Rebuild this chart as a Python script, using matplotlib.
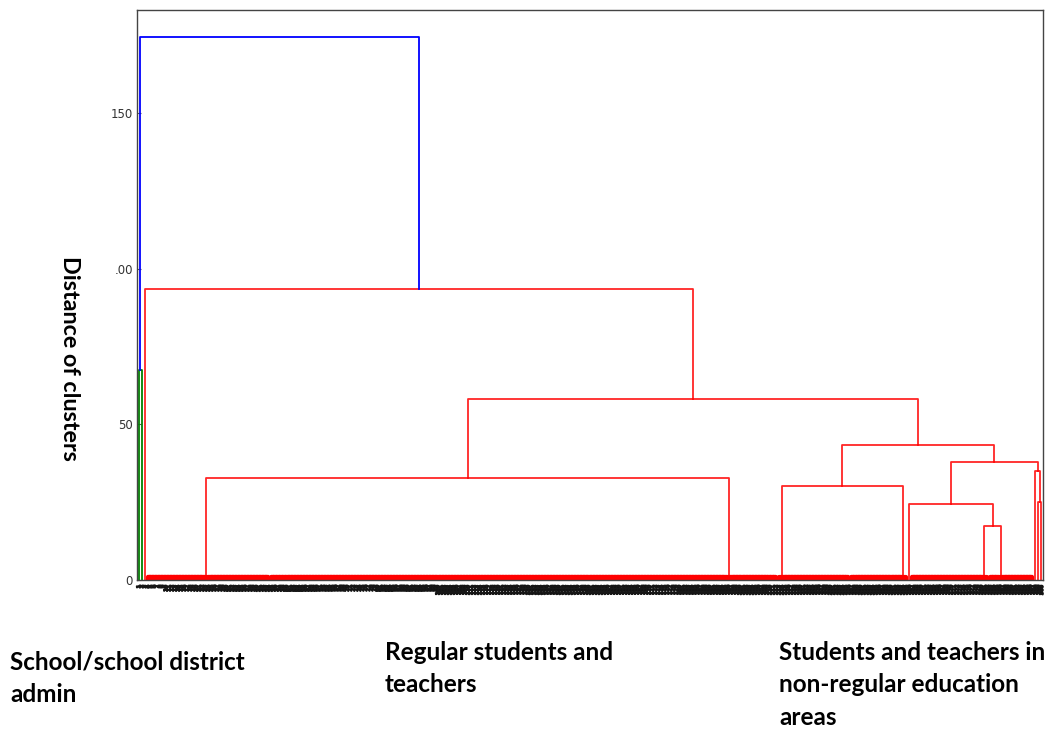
import numpy as np
import matplotlib
matplotlib.use("Agg")
import matplotlib.pyplot as plt
import matplotlib.patheffects as pe

# Leaf blocks, left to right: (name, leaves chained from the left, leaves chained from the right)
block_names = ["g1", "g2", "r0", "A", "B", "C", "D", "E", "F1", "F2", "H1", "H2a", "H2b"]
block_left = [1, 1, 1, 20, 152, 0, 19, 1, 26, 4, 1, 1, 1]
block_right = [0, 0, 0, 21, 16, 24, 0, 0, 0, 11, 0, 0, 0]
band_height = 1.0  # near-zero merges inside each block

# Upper merges: (left child, right child, distance, new cluster name)
merge_left = ["g1", "A", "C", "F1", "E", "H2a", "H1", "EF", "CD", "AB", "r0", "G"]
merge_right = ["g2", "B", "D", "F2", "F", "H2b", "H2", "H", "EFH", "CH", "AH", "R"]
merge_height = [67.5, 32.8, 30.2, 17.3, 24.4, 25.0, 35.0, 37.9, 43.4, 58.1, 93.5, 174.4]
merge_name = ["G", "AB", "CD", "F", "EF", "H2", "H", "EFH", "CH", "AH", "R", "root"]

y_ticks = [0, 50, 100, 150]
y_tick_labels = ["0", "50", ".00", "150"]
y_label = "Distance of clusters"
group_labels = ["School/school district\nadmin",
                "Regular students and\nteachers",
                "Students and teachers in\nnon-regular education\nareas"]

n_leaves = sum(block_left) + sum(block_right)
leaf_x = 10 * np.arange(n_leaves) + 5

fig = plt.figure(figsize=(10.58, 7.29), dpi=100)
ax = fig.add_axes([137 / 1058, 1 - 580 / 729, 906 / 1058, 570 / 729])

segments = []  # (xs, ys, block name)
nodes = {}
members = {}
start = 0
for name, nl, nr in zip(block_names, block_left, block_right):
    n = nl + nr
    xs = leaf_x[start:start + n]
    tops = []
    # chain from the left end
    if nl > 0:
        cx, ch = xs[0], 0.0
        for x in xs[1:nl]:
            segments.append(([cx, cx, x, x], [ch, band_height, band_height, 0.0], name))
            cx, ch = (cx + x) / 2, band_height
        tops.append((cx, ch))
    # chain from the right end
    if nr > 0:
        cx, ch = xs[-1], 0.0
        for x in xs[nl:n - 1][::-1]:
            segments.append(([x, x, cx, cx], [0.0, band_height, band_height, ch], name))
            cx, ch = (cx + x) / 2, band_height
        tops.append((cx, ch))
    if len(tops) == 2:
        (x1, h1), (x2, h2) = tops
        segments.append(([x1, x1, x2, x2], [h1, band_height, band_height, h2], name))
        tops = [((x1 + x2) / 2, band_height)]
    nodes[name] = tops[0]
    members[name] = [name]
    start += n

upper = []
for a, b, h, new in zip(merge_left, merge_right, merge_height, merge_name):
    (x1, h1), (x2, h2) = nodes[a], nodes[b]
    upper.append(([x1, x1, x2, x2], [h1, h, h, h2], new, h))
    nodes[new] = ((x1 + x2) / 2, h)
    members[new] = members[a] + members[b]

# colour by top-level cluster below the threshold
threshold = 0.7 * max(merge_height)
palette = ["green", "red", "c", "m", "y", "k"]
block_color = {}
cluster_color = {}
k = 0
for a, b, h, new in zip(merge_left, merge_right, merge_height, merge_name):
    if h >= threshold:
        for child in (a, b):
            if child not in cluster_color:
                cluster_color[child] = palette[k % len(palette)]
                k += 1
for top, col in cluster_color.items():
    for blk in members[top]:
        block_color[blk] = col

# near-zero merges form a dense band along the baseline
for xs, ys, blk in segments:
    ax.plot(xs, ys, color=block_color[blk], lw=3.0, solid_capstyle="projecting")
for xs, ys, new, h in upper:
    col = "blue" if h >= threshold else block_color[members[new][0]]
    ax.plot(xs, ys, color=col, lw=1.3, alpha=0.85 if col == "red" else 1.0)

ax.set_xlim(0, 10 * n_leaves)
ax.set_ylim(0, 183)
ax.set_xticks(leaf_x)
ax.set_xticklabels([str(i + 1) for i in range(n_leaves)], rotation=90,
                   fontsize=3.4, fontweight="bold", color="#111111")
for t in ax.get_xticklabels():
    t.set_path_effects([pe.withStroke(linewidth=1.0, foreground="#1a1a1a")])
ax.tick_params(axis="x", length=0, pad=3.5)
ax.set_yticks(y_ticks)
ax.set_yticklabels(y_tick_labels, fontsize=8.5, color="#333333")
ax.tick_params(axis="y", direction="in", length=3, width=0.8, color="#555555", pad=3)
for sp in ax.spines.values():
    sp.set_color("#444444")
    sp.set_linewidth(1.0)
    sp.set_zorder(3)

label_font = dict(family=["Lato", "DejaVu Sans"], fontweight="bold", color="black")
fig.text(69 / 1058, 1 - 358 / 729, y_label, rotation=270, ha="center", va="center",
         fontsize=16.8, **label_font)

label_pos = [(10, 651), (385, 641), (779, 641)]
for (px, py), txt in zip(label_pos, group_labels):
    fig.text(px / 1058, 1 - py / 729, txt, ha="left", va="top", fontsize=17.5,
             linespacing=1.5, **label_font)

fig.savefig("out.png", dpi=100)
